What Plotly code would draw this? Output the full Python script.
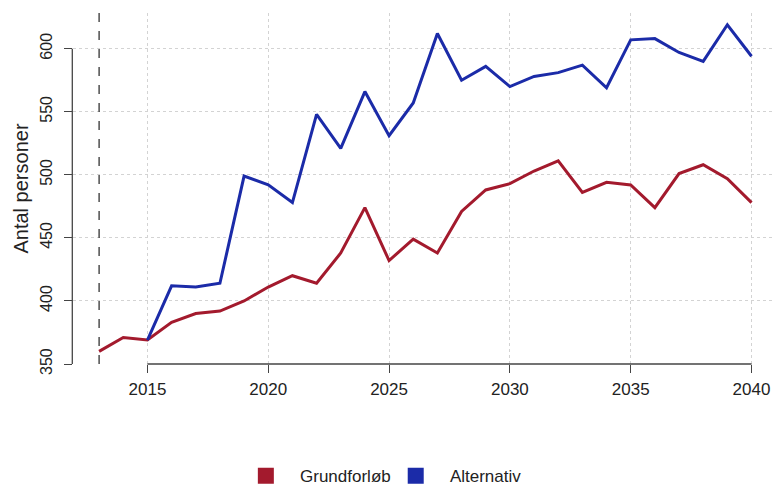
import plotly.graph_objects as go

years = list(range(2013, 2041))
grundforloeb = [360, 371, 369, 383, 390, 392, 400, 411, 420, 414, 438, 474, 432, 449,
                438, 471, 488, 493, 503, 511, 486, 494, 492, 474, 501, 508, 497, 478]
alt_years = list(range(2015, 2041))
alternativ = [369, 412, 411, 414, 499, 492, 478, 548, 521, 566, 531, 557, 612, 575,
              586, 570, 578, 581, 587, 569, 607, 608, 597, 590, 619, 594]
x_ticks = [2015, 2020, 2025, 2030, 2035, 2040]
y_ticks = [350, 400, 450, 500, 550, 600]
base_year = 2013

RED = "#A31A2D"
BLUE = "#1B2BA8"
FONT = "Liberation Sans, Arial, sans-serif"
NB = "\u00a0"

fig = go.Figure()
fig.add_trace(go.Scatter(x=years, y=grundforloeb, mode="lines",
                         line=dict(color=RED, width=3), showlegend=False))
fig.add_trace(go.Scatter(x=alt_years, y=alternativ, mode="lines",
                         line=dict(color=BLUE, width=3), showlegend=False))
# legend entries as squares
fig.add_trace(go.Scatter(x=[None], y=[None], mode="markers", name=NB * 3 + "Grundforløb",
                         marker=dict(symbol="square", size=16, color=RED)))
fig.add_trace(go.Scatter(x=[None], y=[None], mode="markers", name=NB * 3 + "Alternativ",
                         marker=dict(symbol="square", size=16, color=BLUE)))

fig.add_shape(type="line", xref="x", yref="paper", x0=base_year, x1=base_year, y0=0, y1=1,
              line=dict(color="#333333", width=1.3, dash="dash"), layer="above")
# R-style axis lines spanning only tick range
fig.add_shape(type="line", xref="paper", yref="y", x0=-0.001, x1=-0.001,
              y0=y_ticks[0], y1=y_ticks[-1], line=dict(color="#444444", width=1.3))
fig.add_shape(type="line", xref="x", yref="paper", x0=x_ticks[0], x1=x_ticks[-1],
              y0=0, y1=0, line=dict(color="#444444", width=1.3))

fig.update_layout(
    width=774, height=487,
    margin=dict(l=73, r=0, t=13, b=123, autoexpand=False),
    plot_bgcolor="white", paper_bgcolor="white",
    font=dict(family=FONT, size=17, color="#222222"),
    legend=dict(orientation="h", x=0.447, xanchor="center",
                yref="container", y=0.022, yanchor="middle",
                font=dict(size=17, color="#222222"), itemsizing="trace"),
)
fig.update_xaxes(range=[2011.92, 2040.93], tickvals=x_ticks, ticks="outside", ticklen=8,
                 tickcolor="#444444", tickwidth=1.3, showline=False, zeroline=False,
                 showgrid=True, gridcolor="#d3d3d3", griddash="dot", gridwidth=1,
                 tickfont=dict(size=17), ticklabelstandoff=2, automargin=False)
fig.update_yaxes(range=[350, 628.3], tickvals=y_ticks, ticks="outside", ticklen=8,
                 tickcolor="#444444", tickwidth=1.3, showline=False, zeroline=False,
                 showgrid=True, gridcolor="#d3d3d3", griddash="dot", gridwidth=1,
                 tickangle=-90, tickfont=dict(size=16), ticklabelstandoff=6,
                 automargin=False,
                 title=dict(text="Antal personer", font=dict(size=20), standoff=3))

fig.write_html("out.html", config={"displayModeBar": False},
               post_script="document.body.style.margin='0px';")
